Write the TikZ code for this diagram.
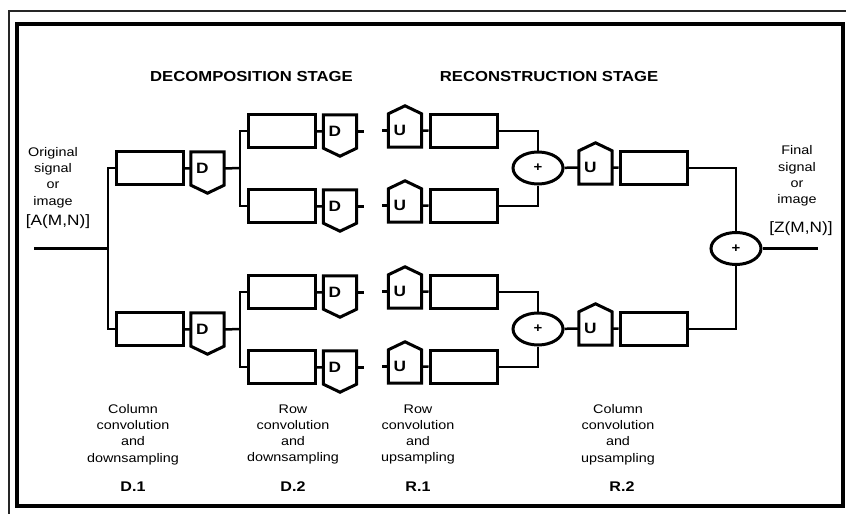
\documentclass[tikz,border=0pt]{standalone}
\usepackage{fontspec}
\setmainfont[FakeStretch=1.15]{Liberation Sans}
\usepackage{tikz}
\usetikzlibrary{calc,shapes.geometric}
\tikzset{
  wire/.style ={line width=2.5pt, black},
  boxline/.style={line width=3pt, black, line join=miter},
  filt/.style ={rectangle, draw, boxline, minimum width=67pt, minimum height=33pt, inner sep=0pt},
  sbox/.style ={rectangle, minimum height=33pt, text width=23pt, inner xsep=5pt, inner ysep=0pt,
                align=left, font=\fontsize{15}{15}\selectfont\bfseries},
  adder/.style={ellipse, draw, boxline, minimum width=50pt, minimum height=32pt, inner sep=0pt,
                font=\fontsize{13}{13}\selectfont\bfseries},
  note/.style ={align=center, inner sep=0pt, font=\fontsize{12.5}{16.3}\selectfont},
  sig/.style  ={inner sep=0pt, font=\fontsize{15}{15}\selectfont},
  head/.style ={inner sep=0pt, font=\fontsize{14.5}{14.5}\selectfont\bfseries},
  tag/.style  ={inner sep=0pt, font=\fontsize{14}{14}\selectfont\bfseries},
}
\begin{document}
\begin{tikzpicture}[x=1pt, y=-1pt]
\useasboundingbox (0,0) rectangle (846,514);
\draw[line width=1.5pt, black!85] (9,514) -- (9,11) -- (846,11);
\draw[line width=3.2pt] (17,24) rectangle (843,506);
\node[head] (hdec) at (251.5,77) {DECOMPOSITION STAGE};
\node[head] (hrec) at (549,77) {RECONSTRUCTION STAGE};
\node[note] (lorig) at (53,177.5) {Original\\signal\\or\\image};
\node[sig]  (lA)    at (58,222) {[A(M,N)]};
\node[note] (lfin)  at (797,176) {Final\\signal\\or\\image};
\node[sig]  (lZ)    at (801,229) {[Z(M,N)]};
\coordinate (in) at (34,248.5); \coordinate (split) at (108,248.5);
\coordinate (j1a) at (240,168); \coordinate (j1b) at (240,329);
\coordinate (out) at (818,248.5);
\node[filt] (f1a) at (149.5,168) {}; \node[sbox] (d1a) at (207.5,168.5) {D};
\node[filt] (f1b) at (149.5,329) {}; \node[sbox] (d1b) at (207.5,329.5) {D};
\node[filt] (f2a) at (281.5,131) {}; \node[sbox] (d2a) at (340,131.5) {D};
\node[filt] (f2b) at (281.5,206) {}; \node[sbox] (d2b) at (340,206.5) {D};
\node[filt] (f2c) at (281.5,292) {}; \node[sbox] (d2c) at (340,292.5) {D};
\node[filt] (f2d) at (281.5,367) {}; \node[sbox] (d2d) at (340,367.5) {D};
\node[sbox] (u2a) at (405,130.5) {U}; \node[filt] (g2a) at (463.5,131) {};
\node[sbox] (u2b) at (405,205.5) {U}; \node[filt] (g2b) at (463.5,206) {};
\node[sbox] (u2c) at (405,291.5) {U}; \node[filt] (g2c) at (463.5,292) {};
\node[sbox] (u2d) at (405,366.5) {U}; \node[filt] (g2d) at (463.5,367) {};
\node[adder] (s1a) at (538,168) {+}; \node[adder] (s1b) at (538,329) {+};
\node[sbox] (u3a) at (595.5,167.5) {U}; \node[filt] (g3a) at (653.5,168) {};
\node[sbox] (u3b) at (595.5,328.5) {U}; \node[filt] (g3b) at (653.5,329) {};
\node[adder] (s2) at (736,248.5) {+};
\foreach \n in {d1a,d1b,d2a,d2b,d2c,d2d}
  \draw[boxline] (\n.south west) -- (\n.north west) -- (\n.north east) -- (\n.south east)
    -- ($(\n.south)+(0,8)$) -- cycle;
\foreach \n in {u2a,u2b,u2c,u2d,u3a,u3b}
  \draw[boxline] (\n.north west) -- (\n.south west) -- (\n.south east) -- (\n.north east)
    -- ($(\n.north)+(0,-8)$) -- cycle;
\draw[wire] (in) -- (split);
\draw[wire] (f1a.west) -| (split) |- (f1b.west);
\draw[wire] (f1a) -- (d1a); \draw[wire] (f1b) -- (d1b);
\draw[wire] (d1a.east) -- (j1a); \draw[wire] (d1b.east) -- (j1b);
\draw[wire] (f2a.west) -| (j1a) |- (f2b.west);
\draw[wire] (f2c.west) -| (j1b) |- (f2d.west);
\foreach \r in {a,b,c,d}{
  \draw[wire] (f2\r) -- (d2\r);
  \coordinate (t\r) at ($(d2\r.east)+(7,0)$);
  \coordinate (v\r) at ($(u2\r.west)+(-6,0)$);
  \draw[wire] (d2\r.east) -- (t\r);
  \draw[wire] (v\r) -- (u2\r.west);
  \draw[wire] (u2\r) -- (g2\r);
}
\draw[wire] (g2a.east) -| (s1a.north); \draw[wire] (g2b.east) -| (s1a.south);
\draw[wire] (g2c.east) -| (s1b.north); \draw[wire] (g2d.east) -| (s1b.south);
\draw[wire] (s1a) -- (u3a); \draw[wire] (u3a) -- (g3a);
\draw[wire] (s1b) -- (u3b); \draw[wire] (u3b) -- (g3b);
\draw[wire] (g3a.east) -| (s2.north); \draw[wire] (g3b.east) -| (s2.south);
\draw[wire] (s2.east) -- (out);
\node[note] (n1) at (133,434.5) {Column\\convolution\\and\\downsampling};
\node[note] (n2) at (293,434.5) {Row\\convolution\\and\\downsampling};
\node[note] (n3) at (418,434.5) {Row\\convolution\\and\\upsampling};
\node[note] (n4) at (618,434.5) {Column\\convolution\\and\\upsampling};
\node[tag] (tD1) at (133,487) {D.1}; \node[tag] (tD2) at (293,487) {D.2};
\node[tag] (tR1) at (418,487) {R.1}; \node[tag] (tR2) at (622,487) {R.2};
\end{tikzpicture}
\end{document}
